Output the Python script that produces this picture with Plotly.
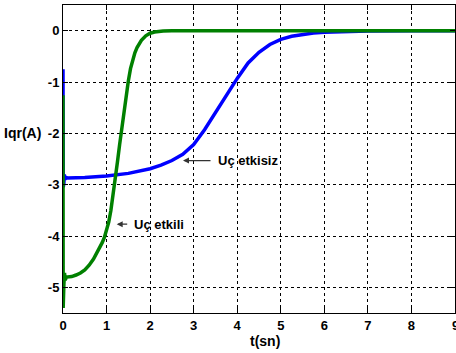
import plotly.graph_objects as go

# Uç etkili (green)
t_etkili = [0, 0.004, 0.01, 0.02, 0.035, 0.05, 0.08, 0.1, 0.2, 0.3, 0.4, 0.5, 0.6, 0.7, 0.8, 0.85, 0.9, 0.95,
            1.0, 1.05, 1.1, 1.15, 1.2, 1.25, 1.3, 1.35, 1.4, 1.45, 1.5, 1.55, 1.6, 1.65, 1.7, 1.8, 1.9,
            2.0, 2.1, 2.2, 2.3, 2.5, 3.0, 4.0, 5.0, 6.0, 7.0, 8.0, 9.0]
i_etkili = [-1.26, -5.4, -4.6, -4.95, -4.72, -4.86, -4.80, -4.80, -4.79, -4.76, -4.72, -4.66, -4.57, -4.45,
            -4.30, -4.22, -4.13, -4.03, -3.90, -3.73, -3.50, -3.22, -2.90, -2.56, -2.22, -1.89, -1.57, -1.27,
            -0.98, -0.74, -0.56, -0.43, -0.33, -0.19, -0.10, -0.05, -0.025, -0.012, -0.005, -0.002,
            0.0, 0.0, 0.0, 0.0, 0.0, 0.0, 0.0]

# Uç etkisiz (blue)
t_etkisiz = [0, 0.005, 0.012, 0.02, 0.03, 0.045, 0.07, 0.1, 0.5, 1.0, 1.5, 1.75, 2.0, 2.25, 2.5, 2.75,
             3.0, 3.25, 3.5, 3.75, 4.0, 4.25, 4.5, 4.75, 5.0, 5.25, 5.5, 5.75, 6.0, 6.5, 7.0, 8.0, 9.0]
i_etkisiz = [-0.75, -3.05, -2.62, -2.98, -2.8, -2.9, -2.86, -2.87, -2.86, -2.83, -2.78, -2.74, -2.69, -2.62,
             -2.53, -2.41, -2.22, -1.93, -1.59, -1.27, -0.93, -0.63, -0.42, -0.27, -0.17, -0.11, -0.07,
             -0.045, -0.03, -0.015, -0.005, 0.0, 0.0]

x_ticks = [0, 1, 2, 3, 4, 5, 6, 7, 8, 9]
x_ticktext = ["0", "1", "2", "3", "4", "5", "6", "7", "8", "9"]
y_ticks = [-5, -4, -3, -2, -1, 0]
y_ticktext = ["-5", "-4", "-3", "-2", "-1", "0"]

FONT = "Liberation Sans, Arial, sans-serif"

fig = go.Figure()
fig.add_trace(go.Scatter(x=t_etkisiz, y=i_etkisiz, mode="lines",
                         line=dict(color="#0000FF", width=3.5), showlegend=False))
fig.add_trace(go.Scatter(x=t_etkili, y=i_etkili, mode="lines",
                         line=dict(color="#008000", width=3.5), showlegend=False))

tick_font = dict(family=FONT, size=13, color="black", weight="bold")
axis_common = dict(showline=True, linecolor="black", linewidth=1, mirror="ticks",
                   ticks="inside", ticklen=5, tickcolor="black",
                   showgrid=True, gridcolor="black", gridwidth=1, griddash="3px,3px",
                   zeroline=False, automargin=False, tickfont=tick_font)

fig.update_xaxes(range=[0, 9], tickvals=x_ticks, ticktext=x_ticktext, **axis_common)
fig.update_yaxes(range=[-5.5, 0.5], tickvals=y_ticks, ticktext=y_ticktext, **axis_common)

# last x tick label (cut by the window edge, as in the original)
fig.add_annotation(x=x_ticks[-1], xref="x", yref="paper", y=-0.042, text=x_ticktext[-1],
                   showarrow=False, xanchor="center", yanchor="middle", font=tick_font)

ann_font = dict(family=FONT, size=13, color="black", weight="bold")
fig.add_annotation(x=2.755, y=-2.53, ax=29, ay=0, text="", showarrow=True,
                   arrowhead=2, arrowsize=1, arrowwidth=1.2, arrowcolor="#333333")
fig.add_annotation(x=3.51, y=-2.53, text="Uç etkisiz", showarrow=False,
                   xanchor="left", yanchor="middle", font=ann_font)
fig.add_annotation(x=1.233, y=-3.77, ax=12, ay=0, text="", showarrow=True,
                   arrowhead=2, arrowsize=1, arrowwidth=1.2, arrowcolor="#333333")
fig.add_annotation(x=1.584, y=-3.77, text="Uç etkili", showarrow=False,
                   xanchor="left", yanchor="middle", font=ann_font)

fig.add_annotation(xref="paper", yref="y", x=-0.051, y=-2, text="Iqr(A)", showarrow=False,
                   xanchor="right", yanchor="middle",
                   font=dict(family=FONT, size=14, color="black", weight="bold"))
fig.add_annotation(xref="paper", yref="paper", x=0.515, y=-0.091, text="t(sn)", showarrow=False,
                   xanchor="center", yanchor="middle",
                   font=dict(family=FONT, size=14, color="black", weight="bold"))

fig.update_layout(width=456, height=353, margin=dict(l=63, r=1, t=5, b=40, autoexpand=False),
                  paper_bgcolor="white", plot_bgcolor="white")

fig.write_html("out.html", config={"responsive": False, "displayModeBar": False},
               post_script="document.body.style.margin='0px';document.body.style.overflow='hidden';")
